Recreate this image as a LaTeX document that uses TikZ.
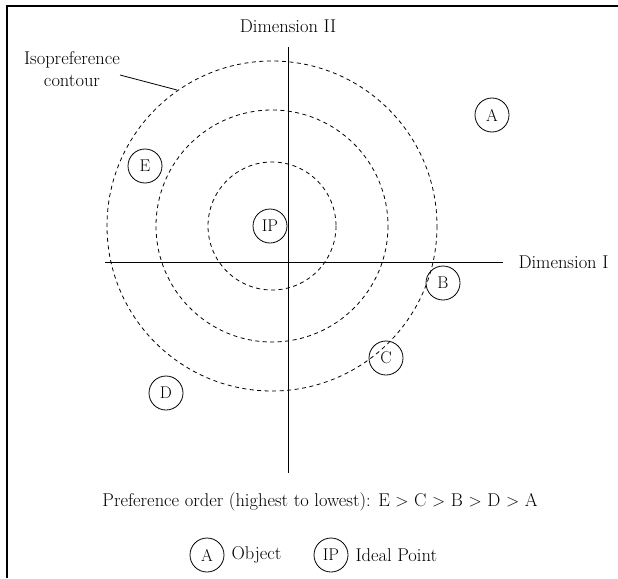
\documentclass[tikz,border=0pt]{standalone}
\begin{document}
\begin{tikzpicture}[x=1pt,y=-1pt,
  obj/.style={draw,circle,minimum size=34pt,inner sep=0pt,line width=0.8pt,font=\fontsize{17}{20}\selectfont},
  contour/.style={dashed,dash pattern=on 4pt off 3.5pt,line width=0.8pt},
  axis/.style={line width=0.9pt},
  lbl/.style={font=\fontsize{18.5}{22}\selectfont}]
\useasboundingbox (0,0) rectangle (618,578);
\draw[line width=2pt] (7,578) -- (7,6) -- (618,6);
% contours
\coordinate (ctr) at (272,226);
\draw[contour] (ctr) circle (64);
\draw[contour] (ctr) circle (116);
\draw[contour] (ctr) circle (165);
% axes
\coordinate (yt) at (288,47);
\coordinate (yb) at (288,473);
\coordinate (xl) at (105,262);
\coordinate (xr) at (503,262);
\draw[axis] (yt) -- (yb);
\draw[axis] (xl) -- (xr);
\node[lbl] (d2) at (288,26) {Dimension II};
\node[lbl,anchor=west] (d1) at (515,262) {Dimension I};
\node[lbl,align=center,text width=120pt,font=\fontsize{18.5}{22}\selectfont] (iso) at (72,69) {Isopreference\\contour};
\coordinate (isoend) at (177,90);
\draw[line width=0.8pt] (120,75) -- (isoend);
% objects
\node[obj] (A) at (492,115) {A};
\node[obj] (E) at (145,166) {E};
\node[obj] (IP) at (270,226) {IP};
\node[obj] (B) at (443,283) {B};
\node[obj] (C) at (386,358) {C};
\node[obj] (D) at (166,393) {D};
% caption
\node[lbl] (pref) at (320,502) {Preference order (highest to lowest): E $>$ C $>$ B $>$ D $>$ A};
\node[obj] (LA) at (207,555) {A};
\node[lbl,anchor=west] (lobj) at (228,555) {Object};
\node[obj] (LIP) at (331,555) {IP};
\node[lbl,anchor=west] (lip) at (352,555) {Ideal Point};
\end{tikzpicture}
\end{document}
